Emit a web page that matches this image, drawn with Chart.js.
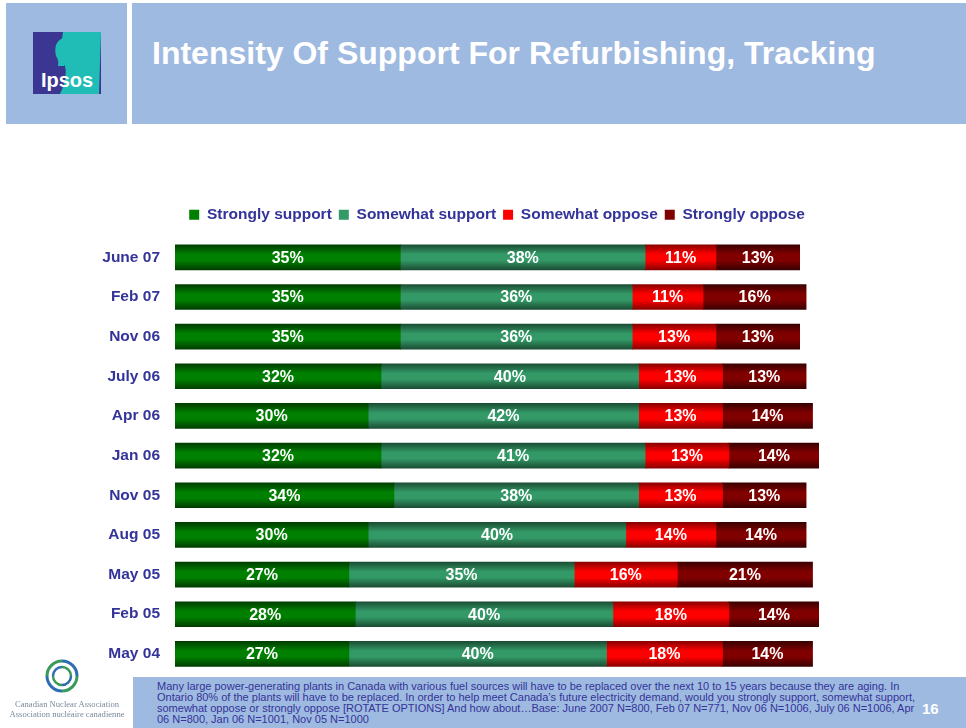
<!DOCTYPE html>
<html lang="en">
<head>
    <meta charset="UTF-8" />
    <title>Intensity Of Support For Refurbishing, Tracking</title>
    <script src="https://cdn.jsdelivr.net/npm/chart.js"></script>
    <style>
        body { margin: 0; width: 966px; height: 728px; position: relative; background: #fff; overflow: hidden; font-family: "Liberation Sans", Arial, sans-serif; }
        .hbox { position: absolute; background: #9fbae0; }
        #title { position: absolute; left: 152px; top: 35px; color: #fff; font-weight: bold; font-size: 32px; white-space: nowrap; }
        #chartWrap { position: absolute; left: 0; top: 200px; width: 966px; height: 498px; }
        #note { position: absolute; left: 133px; top: 677px; width: 833px; height: 51px; background: #9fbae0; }
        #noteText { position: absolute; left: 24px; top: 4px; font-size: 11px; line-height: 11px; color: #333399; white-space: nowrap; }
        #pageNum { position: absolute; left: 789px; top: 23px; color: #fff; font-weight: bold; font-size: 15px; }
        #cna { position: absolute; left: 2px; width: 130px; text-align: center; font-family: "Liberation Serif", serif; font-size: 8.6px; color: #7a8a9a; line-height: 10px; }
    </style>
</head>
<body>
    <div class="hbox" style="left:6px; top:3px; width:121px; height:121px;"></div>
    <div class="hbox" style="left:132px; top:3px; width:834px; height:121px;"></div>
    <svg style="position:absolute; left:33px; top:32px;" width="68" height="62" viewBox="0 0 68 62">
        <rect x="0" y="0" width="68" height="62" fill="#3b3691"/>
        <path d="M30 0 L68 0 L66 62 L27 62 Q36 45 31 30 Q27 15 30 0 Z" fill="#1fbdb6"/>
        <path d="M30 6 Q40 4 40 16 Q42 20 39 22 L38 28 Q33 30 31 34 L25 34 Q26 28 23 24 Q20 10 30 6 Z" fill="#1fbdb6"/>
        <text x="34" y="55" text-anchor="middle" fill="#fff" font-family="Liberation Sans, Arial" font-size="20" font-weight="bold">Ipsos</text>
    </svg>
    <div id="title">Intensity Of Support For Refurbishing, Tracking</div>

    <div id="chartWrap"><canvas id="chart" width="966" height="498"></canvas></div>

    <svg style="position:absolute; left:44px; top:658px;" width="36" height="36" viewBox="0 0 36 36">
        <path d="M18 3 A15 15 0 0 1 33 18" fill="none" stroke="#2d6db0" stroke-width="3"/>
        <path d="M33 18 A15 15 0 0 1 18 33" fill="none" stroke="#3a9a5a" stroke-width="3"/>
        <path d="M18 33 A15 15 0 0 1 3 18" fill="none" stroke="#2d6db0" stroke-width="3"/>
        <path d="M3 18 A15 15 0 0 1 18 3" fill="none" stroke="#3a9a5a" stroke-width="3"/>
        <path d="M18 9 A9 9 0 0 1 27 18" fill="none" stroke="#3a9a5a" stroke-width="2.5"/>
        <path d="M9 18 A9 9 0 0 1 18 9" fill="none" stroke="#2d6db0" stroke-width="2.5"/>
        <path d="M27 18 A9 9 0 0 1 18 27" fill="none" stroke="#2d6db0" stroke-width="2.5"/>
        <path d="M18 27 A9 9 0 0 1 9 18" fill="none" stroke="#3a9a5a" stroke-width="2.5"/>
    </svg>
    <div id="cna" style="top:699px;">Canadian Nuclear Association<br>Association nucléaire canadienne</div>

    <div id="note">
        <div id="noteText">Many large power-generating plants in Canada with various fuel sources will have to be replaced over the next 10 to 15 years because they are aging. In<br>Ontario 80% of the plants will have to be replaced. In order to help meet Canada’s future electricity demand, would you strongly support, somewhat support,<br>somewhat oppose or strongly oppose [ROTATE OPTIONS] And how about…Base: June 2007 N=800, Feb 07 N=771, Nov 06 N=1006, July 06 N=1006, Apr<br>06 N=800, Jan 06 N=1001, Nov 05 N=1000</div>
        <div id="pageNum">16</div>
    </div>

    <script>
        const periods = ["June 07", "Feb 07", "Nov 06", "July 06", "Apr 06", "Jan 06", "Nov 05", "Aug 05", "May 05", "Feb 05", "May 04"];
        const stronglySupport = [35, 35, 35, 32, 30, 32, 34, 30, 27, 28, 27];
        const somewhatSupport = [38, 36, 36, 40, 42, 41, 38, 40, 35, 40, 40];
        const somewhatOppose = [11, 11, 13, 13, 13, 13, 13, 14, 16, 18, 18];
        const stronglyOppose = [13, 16, 13, 13, 14, 14, 13, 14, 21, 14, 14];
        const seriesNames = ["Strongly support", "Somewhat support", "Somewhat oppose", "Strongly oppose"];

        // [flat colour, dark edge colour]
        const palette = [
            ["#008000", "#003d00"],
            ["#339966", "#1b4d34"],
            ["#ff0000", "#8a0000"],
            ["#800000", "#3a0000"]
        ];

        const BAR_H = 25;

        function barFill(i) {
            return function (ctx) {
                const chart = ctx.chart;
                if (!chart.chartArea || ctx.type !== "data") return palette[i][0];
                const yc = chart.scales.y.getPixelForValue(ctx.dataIndex);
                const g = chart.ctx.createLinearGradient(0, yc - BAR_H / 2, 0, yc + BAR_H / 2);
                g.addColorStop(0, palette[i][1]);
                g.addColorStop(0.38, palette[i][0]);
                g.addColorStop(0.62, palette[i][0]);
                g.addColorStop(1, palette[i][1]);
                return g;
            };
        }

        const allSeries = [stronglySupport, somewhatSupport, somewhatOppose, stronglyOppose];

        const barLabels = {
            id: "barLabels",
            afterDatasetsDraw(chart) {
                const c = chart.ctx;
                c.save();
                c.font = "bold 16px 'Liberation Sans', Arial";
                c.fillStyle = "#ffffff";
                c.textAlign = "center";
                c.textBaseline = "middle";
                chart.data.datasets.forEach((ds, i) => {
                    chart.getDatasetMeta(i).data.forEach((bar, j) => {
                        const x = (bar.x + bar.base) / 2;
                        c.fillText(ds.data[j] + "%", x, bar.y + 1);
                    });
                });
                c.restore();
            }
        };

        // a bit more room between legend and the first bar
        const legendGap = {
            id: "legendGap",
            beforeLayout(chart) {
                const lg = chart.legend;
                if (lg && !lg._gapPatched) {
                    const fit = lg.fit.bind(lg);
                    lg.fit = function () { fit(); this.height += 5; };
                    lg._gapPatched = true;
                }
            }
        };

        new Chart(document.getElementById("chart"), {
            type: "bar",
            data: {
                labels: periods,
                datasets: allSeries.map((vals, i) => ({
                    label: seriesNames[i],
                    data: vals,
                    backgroundColor: barFill(i),
                    borderWidth: 0,
                    barThickness: BAR_H
                }))
            },
            options: {
                indexAxis: "y",
                responsive: false,
                animation: false,
                maintainAspectRatio: false,
                layout: { padding: { top: 0, right: 147, bottom: 0, left: 0 } },
                scales: {
                    x: { stacked: true, min: 0, max: 100, display: false },
                    y: {
                        stacked: true,
                        grid: { display: false, drawTicks: false },
                        border: { display: false },
                        ticks: {
                            color: "#333399",
                            padding: 15,
                            font: { family: "'Liberation Sans', Arial", size: 15.5, weight: "bold" }
                        },
                        afterFit(scale) { scale.width = 175; }
                    }
                },
                plugins: {
                    tooltip: { enabled: false },
                    legend: {
                        position: "top",
                        fullSize: false,
                        labels: {
                            boxWidth: 10,
                            boxHeight: 10,
                            padding: 7,
                            color: "#333399",
                            font: { family: "'Liberation Sans', Arial", size: 15.5, weight: "bold" },
                            generateLabels(chart) {
                                return seriesNames.map((n, i) => ({
                                    text: n,
                                    fillStyle: palette[i][0],
                                    strokeStyle: palette[i][0],
                                    lineWidth: 0,
                                    fontColor: "#333399",
                                    datasetIndex: i
                                }));
                            }
                        }
                    }
                }
            },
            plugins: [barLabels, legendGap]
        });
    </script>
</body>
</html>
